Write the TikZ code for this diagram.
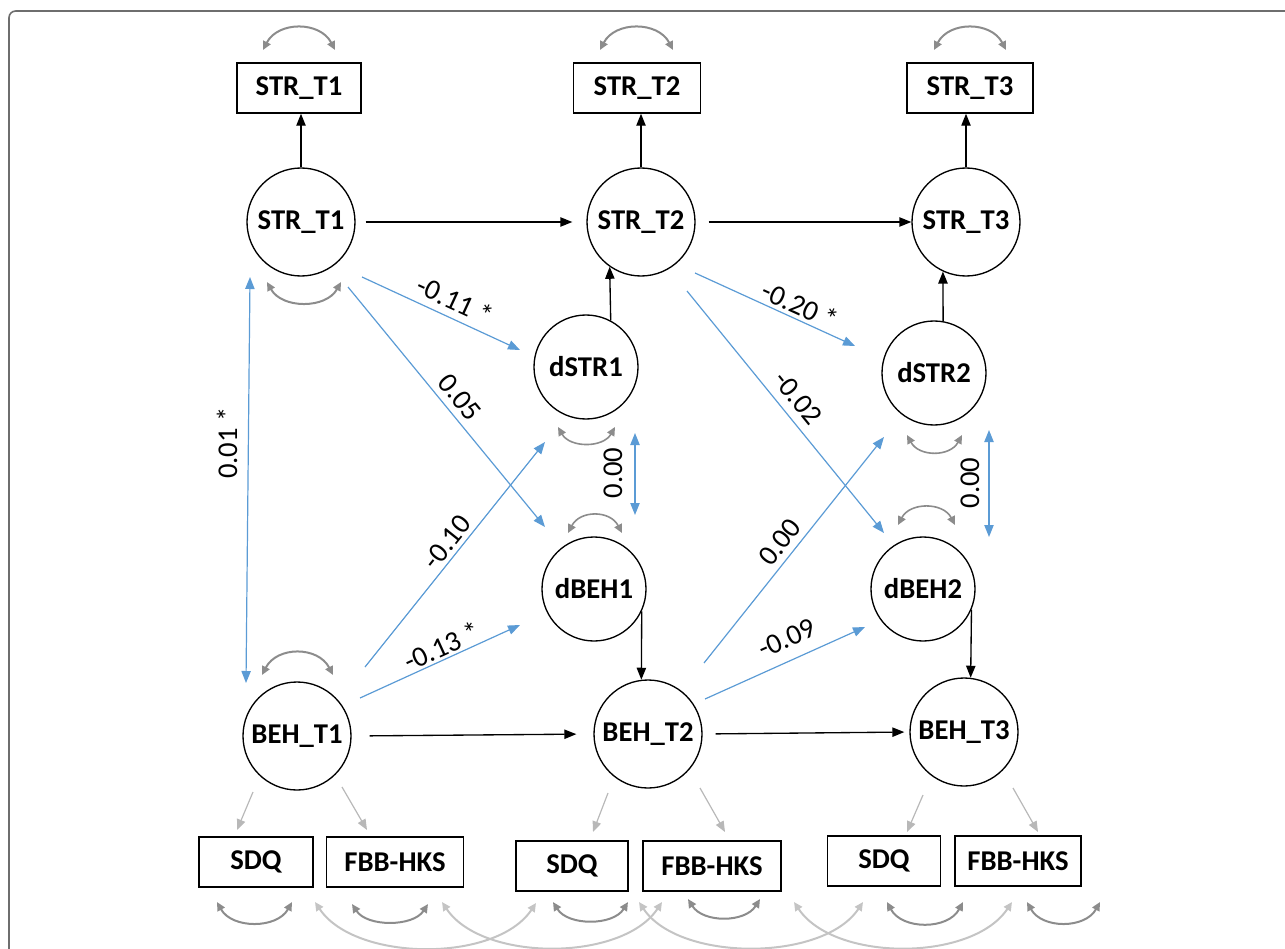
\documentclass[tikz,border=0pt]{standalone}
\usepackage{fontspec}
\setmainfont{Carlito}
\usetikzlibrary{arrows.meta,calc}
\definecolor{bluec}{HTML}{5B9BD5}
\definecolor{arcgray}{HTML}{8C8C8C}
\definecolor{lightarc}{HTML}{C4C4C4}
\definecolor{indgray}{HTML}{B8B8B8}
\definecolor{framec}{HTML}{6E6E6E}
\tikzset{
  lat/.style={circle, draw, line width=1pt, minimum size=81pt, inner sep=0pt, font=\bfseries\fontsize{21.5}{24}\selectfont},
  dlat/.style={lat, minimum size=78pt},
  obs/.style={rectangle, draw, line width=1.1pt, minimum height=37.5pt, inner sep=0pt, font=\bfseries\fontsize{21.5}{24}\selectfont},
  blk/.style={-{Triangle[length=9pt,width=7pt]}, line width=1pt, black},
  blu/.style={-{Triangle[length=9pt,width=7pt]}, line width=0.9pt, draw=bluec},
  bblu/.style={{Triangle[length=9pt,width=7pt]}-{Triangle[length=9pt,width=7pt]}, line width=0.9pt, draw=bluec},
  lbl/.style={font=\fontsize{21.5}{24}\selectfont, inner sep=0pt},
  var/.style={{Triangle[length=6.5pt,width=6pt]}-{Triangle[length=6.5pt,width=6pt]}, line width=1.5pt, draw=arcgray},
  cov/.style={{Triangle[length=6.5pt,width=6pt]}-{Triangle[length=6.5pt,width=6pt]}, line width=1.5pt, draw=lightarc},
  ind/.style={-{Triangle[length=8pt,width=6.5pt]}, line width=0.9pt, draw=indgray},
}
\begin{document}
\begin{tikzpicture}[x=0.75pt, y=-0.75pt]
\useasboundingbox (0,0) rectangle (1285,949);
\draw[line width=1.2pt, draw=framec, rounded corners=5pt] (9,1000) |- (1330,11);

% observed boxes
\node[obs, minimum width=93pt] (bSTR1) at (299,88) {STR\_T1};
\node[obs, minimum width=95pt] (bSTR2) at (637,88) {STR\_T2};
\node[obs, minimum width=94.5pt] (bSTR3) at (970,88) {STR\_T3};
% latent
\node[lat] (STR1) at (301,222) {STR\_T1};
\node[lat] (STR2) at (641,222) {STR\_T2};
\node[lat] (STR3) at (966,222) {STR\_T3};
\node[dlat] (dSTR1) at (586,367) {dSTR1};
\node[dlat] (dSTR2) at (934,373) {dSTR2};
\node[dlat] (dBEH1) at (594,589) {dBEH1};
\node[dlat] (dBEH2) at (923,589) {dBEH2};
\node[lat] (BEH1) at (297,736) {BEH\_T1};
\node[lat] (BEH2) at (648,734) {BEH\_T2};
\node[lat] (BEH3) at (964,732) {BEH\_T3};
% indicators
\node[obs, minimum width=85.5pt] (SDQ1) at (256,862) {SDQ};
\node[obs, minimum width=102.75pt] (FBB1) at (395,862) {FBB-HKS};
\node[obs, minimum width=84pt] (SDQ2) at (572,866) {SDQ};
\node[obs, minimum width=103.5pt] (FBB2) at (712,866) {FBB-HKS};
\node[obs, minimum width=84.75pt] (SDQ3) at (884,861) {SDQ};
\node[obs, minimum width=94.5pt] (FBB3) at (1018,861) {FBB-HKS};

% black paths
\draw[blk] (STR1.north) -- (STR1.north |- bSTR1.south);
\draw[blk] (STR2.north) -- (STR2.north |- bSTR2.south);
\draw[blk] (STR3.north) -- (STR3.north |- bSTR3.south);
\draw[blk, shorten <=7.5pt, shorten >=10.5pt] (STR1.east) -- (STR2.west);
\draw[blk, shorten <=9.75pt] (STR2.east) -- (STR3.west);
\draw[blk, shorten <=13.5pt, shorten >=12.75pt] (BEH1.east) -- (BEH2.west);
\draw[blk, shorten <=9.75pt, shorten >=3.75pt] (BEH2.east) -- (BEH3.west);
\draw[blk] (dSTR1.62) -- (STR2.-125);
\draw[blk] (dSTR2.80) -- (STR3.-115);
\draw[blk] (dBEH1.-25) -- (BEH2.97);
\draw[blk] (dBEH2.-23) -- (BEH3.83);

% blue paths
\draw[blu] ($(STR1)+(61,55)$) -- ($(dSTR1)+(-66,-17)$);
\draw[blu] ($(STR1)+(47,65)$) -- ($(dBEH1)+(-49,-62)$);
\draw[blu] ($(BEH1)+(68,-69)$) -- ($(dSTR1)+(-41,75)$);
\draw[blu] ($(BEH1)+(63,-38)$) -- ($(dBEH1)+(-74,36)$);
\draw[bblu] ($(STR1)+(-51,55)$) -- ($(BEH1)+(-51,-53)$);
\draw[bblu] ($(dSTR1)+(49,66)$) -- ($(dBEH1)+(41,-74)$);
\draw[blu] ($(STR2)+(54,51)$) -- ($(dSTR2)+(-79,-27)$);
\draw[blu] ($(STR2)+(46,69)$) -- ($(dBEH2)+(-39,-56)$);
\draw[blu] ($(BEH2)+(56,-71)$) -- ($(dSTR2)+(-50,64)$);
\draw[blu] ($(BEH2)+(57,-35)$) -- ($(dBEH2)+(-58,38)$);
\draw[bblu] ($(dSTR2)+(55,57)$) -- ($(dBEH2)+(66,-52)$);

% labels
\node[lbl, rotate=-24.8] (l1) at (455,300) {-0.11 *};
\node[lbl, rotate=-50.6] (l2) at (460,397) {0.05};
\node[lbl, rotate=51.3] (l3) at (447,542) {-0.10};
\node[lbl, rotate=24.5] (l4) at (442,646) {-0.13 *};
\node[lbl, rotate=90] (l5) at (227,443) {0.01 *};
\node[lbl, rotate=90] (l6) at (613,473) {0.00};
\node[lbl, rotate=-24.5] (l7) at (800,305) {-0.20 *};
\node[lbl, rotate=-50.9] (l8) at (798,398) {-0.02};
\node[lbl, rotate=51.5] (l9) at (780,542) {0.00};
\node[lbl, rotate=24.2] (l10) at (787,638) {-0.09};
\node[lbl, rotate=90] (l11) at (970,483) {0.00};

% indicator loadings
\draw[ind] ($(BEH1)+(-44,56)$) -- ($(SDQ1)+(-19,-32)$);
\draw[ind] ($(BEH1)+(45,51)$) -- ($(FBB1)+(-28,-32)$);
\draw[ind] ($(BEH2)+(-40,59)$) -- ($(SDQ2)+(21,-34)$);
\draw[ind] ($(BEH2)+(52,54)$) -- ($(FBB2)+(13,-34)$);
\draw[ind] ($(BEH3)+(-41,63)$) -- ($(SDQ3)+(23,-29)$);
\draw[ind] ($(BEH3)+(49,56)$) -- ($(FBB3)+(20,-29)$);

% variance arcs (top)
\draw[var] ($(bSTR1)+(-36,-38)$) .. controls +(15,-29) and +(-15,-29) .. ($(bSTR1)+(36,-38)$);
\draw[var] ($(bSTR2)+(-37,-38)$) .. controls +(15,-29) and +(-15,-29) .. ($(bSTR2)+(36,-38)$);
\draw[var] ($(bSTR3)+(-36,-38)$) .. controls +(15,-29) and +(-15,-29) .. ($(bSTR3)+(36,-38)$);
\draw[var] ($(STR1)+(-34,60)$) .. controls +(15,27) and +(-15,27) .. ($(STR1)+(40,60)$);
\draw[var] ($(BEH1)+(-35,-61)$) .. controls +(15,-29) and +(-15,-29) .. ($(BEH1)+(36,-61)$);
\draw[var, line width=1.2pt] ($(dSTR1)+(-28,60)$) .. controls +(12,21) and +(-12,21) .. ($(dSTR1)+(29,60)$);
\draw[var, line width=1.2pt] ($(dBEH1)+(-26,-56)$) .. controls +(12,-23) and +(-12,-23) .. ($(dBEH1)+(28,-56)$);
\draw[var, line width=1.2pt] ($(dSTR2)+(-27,62)$) .. controls +(12,22) and +(-12,22) .. ($(dSTR2)+(28,62)$);
\draw[var, line width=1.2pt] ($(dBEH2)+(-25,-64)$) .. controls +(12,-23) and +(-12,-23) .. ($(dBEH2)+(32,-64)$);

% variance arcs (bottom)
\draw[var] ($(SDQ1)+(-39,40)$) .. controls +(15,27) and +(-15,27) .. ($(SDQ1)+(36,40)$);
\draw[var] ($(FBB1)+(-43,42)$) .. controls +(15,23) and +(-15,23) .. ($(FBB1)+(33,42)$);
\draw[var] ($(SDQ2)+(-19,36)$) .. controls +(15,24) and +(-15,24) .. ($(SDQ2)+(56,36)$);
\draw[var] ($(FBB2)+(-24,33)$) .. controls +(15,24) and +(-15,24) .. ($(FBB2)+(48,33)$);
\draw[var] ($(SDQ3)+(3,41)$) .. controls +(15,28) and +(-15,28) .. ($(SDQ3)+(79,41)$);
\draw[var] ($(FBB3)+(9,41)$) .. controls +(15,27) and +(-15,27) .. ($(FBB3)+(82,41)$);

% covariance arcs
\draw[cov] ($(SDQ1)+(59,40)$) .. controls +(40,60) and +(-40,60) .. ($(SDQ2)+(-36,37)$);
\draw[cov] ($(FBB1)+(47,40)$) .. controls +(40,60) and +(-40,60) .. ($(FBB2)+(-50,36)$);
\draw[cov] ($(SDQ2)+(67,36)$) .. controls +(40,60) and +(-40,60) .. ($(SDQ3)+(-21,41)$);
\draw[cov] ($(FBB2)+(82,36)$) .. controls +(40,60) and +(-40,60) .. ($(FBB3)+(-6,41)$);
\end{tikzpicture}
\end{document}
